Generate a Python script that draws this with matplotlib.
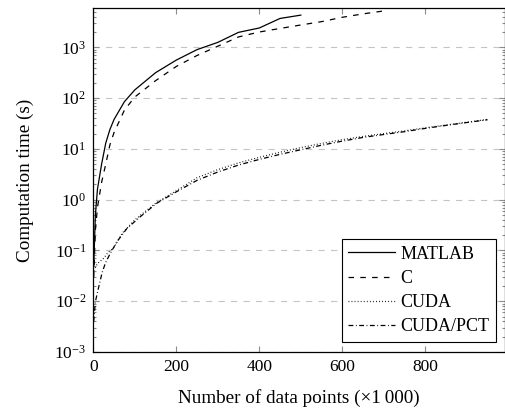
"""
Computation time vs number of data points (log scale).
"""
import matplotlib
matplotlib.use("Agg")
import matplotlib.pyplot as plt
from matplotlib.ticker import LogLocator, FixedLocator, NullFormatter

# data
matlab_x = [1, 5, 10, 20, 30, 40, 50, 75, 100, 150, 200, 250, 300, 350, 400, 450, 500]
matlab_y = [0.05, 0.5, 1.6, 5, 13, 24, 38, 85, 145, 316, 560, 900, 1250, 1970, 2400, 3700, 4300]

c_x = [1, 5, 10, 20, 30, 40, 50, 75, 100, 150, 200, 250, 300, 350, 400, 450, 500,
       550, 600, 650, 700]
c_y = [0.03, 0.25, 0.7, 2.2, 5, 12, 21, 58, 105, 220, 420, 690, 1050, 1600, 2000,
       2350, 2750, 3200, 3900, 4550, 5200]

cuda_x = [1, 10, 25, 35, 50, 70, 100, 150, 200, 250, 300, 350, 400, 450, 500,
          550, 600, 650, 700, 750, 800, 850, 900, 950]
cuda_y = [0.04, 0.055, 0.07, 0.09, 0.115, 0.22, 0.4, 0.85, 1.5, 2.7, 3.9, 5.3, 6.8,
          8.6, 10.6, 12.8, 15.2, 17.6, 20, 22.6, 26, 29.5, 33.5, 38]

pct_x = [1, 5, 13, 21, 29, 41, 57, 81, 113, 153, 201, 250, 300, 350, 400, 450, 500,
         550, 600, 650, 700, 750, 800, 850, 900, 950]
pct_y = [0.004, 0.0098, 0.019, 0.036, 0.056, 0.088, 0.149, 0.27, 0.46, 0.85, 1.44,
         2.4, 3.5, 4.8, 6.2, 7.8, 9.6, 11.8, 14.2, 16.8, 19.2, 21.8, 25.3, 29, 33, 37.5]

x_ticks = [0, 200, 400, 600, 800]

plt.rcParams["font.family"] = ["Liberation Serif", "DejaVu Serif"]
plt.rcParams["mathtext.fontset"] = "custom"
plt.rcParams["mathtext.rm"] = "Liberation Serif"
plt.rcParams["mathtext.it"] = "Liberation Serif:italic"
plt.rcParams["font.size"] = 12.5
plt.rcParams["lines.scale_dashes"] = False

fig = plt.figure(figsize=(5.05, 4.13), dpi=100)
ax = fig.add_axes([93.3 / 505, 61 / 413, (505 - 93.3) / 505, 344 / 413])

lw = 0.9
ax.plot(matlab_x, matlab_y, color="black", lw=lw, label="MATLAB")
ax.plot(c_x, c_y, color="black", lw=lw, dashes=(4, 4.5), label="C")
ax.plot(cuda_x, cuda_y, color="black", lw=lw, dashes=(0.6, 1.6), label="CUDA")
ax.plot(pct_x, pct_y, color="black", lw=lw, dashes=(3.5, 1.8, 0.6, 1.8),
        label="CUDA/PCT")

ax.set_yscale("log")
ax.set_xlim(0, (505 - 93.3) / 0.415)
ax.set_ylim(1e-3, 5940)

ax.xaxis.set_major_locator(FixedLocator(x_ticks))
ax.yaxis.set_major_locator(LogLocator(base=10, numticks=20))
ax.yaxis.set_minor_locator(LogLocator(base=10, subs=range(2, 10), numticks=20))
ax.yaxis.set_minor_formatter(NullFormatter())

ax.tick_params(which="both", direction="in", top=True, right=True,
               color="#8c8c8c", width=0.8, labelsize=12.5)
ax.tick_params(which="major", length=4.5, pad=5)
ax.tick_params(which="minor", length=2.5)
ax.tick_params(axis="x", which="minor", bottom=False, top=False)

for s in ax.spines.values():
    s.set_linewidth(0.9)

ax.yaxis.grid(True, which="major", color="#c4c4c4", lw=0.8, dashes=(4.5, 4.5))
ax.set_axisbelow(True)

ax.set_xlabel("Number of data points (\u00d71\u2009000)", fontsize=13.8, labelpad=10)
ax.set_ylabel("Computation time (s)", fontsize=13.8, labelpad=15)

leg = ax.legend(loc="lower right", bbox_to_anchor=(0.977, 0.03), fancybox=False,
                edgecolor="black", framealpha=1, handlelength=2.6,
                handletextpad=0.3, borderpad=0.35, labelspacing=0.4,
                borderaxespad=0, fontsize=13)
leg.get_frame().set_linewidth(0.8)

fig.savefig("out.png", dpi=100)
